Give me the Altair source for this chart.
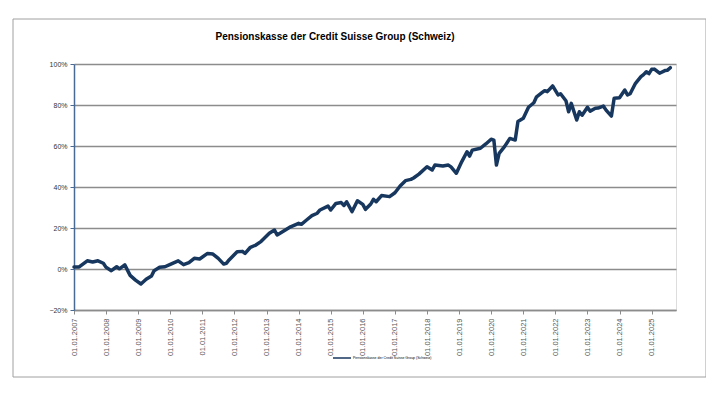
import altair as alt
import pandas as pd

series_name = "Pensionskasse der Credit Suisse Group (Schweiz)"

dates = [
    "2007-01", "2007-03", "2007-06", "2007-08", "2007-10", "2007-12",
    "2008-01", "2008-03", "2008-05", "2008-06", "2008-08", "2008-10", "2008-12",
    "2009-02", "2009-04", "2009-06", "2009-07", "2009-09", "2009-11",
    "2010-01", "2010-04", "2010-06", "2010-08", "2010-10", "2010-12",
    "2011-03", "2011-05", "2011-07", "2011-09", "2011-10", "2011-11",
    "2012-02", "2012-04", "2012-05", "2012-07", "2012-09", "2012-11",
    "2013-02", "2013-04", "2013-05", "2013-07", "2013-10",
    "2014-01", "2014-02", "2014-04", "2014-06", "2014-08", "2014-09", "2014-12",
    "2015-01", "2015-03", "2015-05", "2015-06", "2015-07", "2015-09", "2015-11",
    "2016-01", "2016-02", "2016-04", "2016-05", "2016-06", "2016-08", "2016-11",
    "2017-01", "2017-03", "2017-05", "2017-07", "2017-08", "2017-10",
    "2018-01", "2018-03", "2018-04", "2018-07", "2018-09", "2018-10", "2018-12",
    "2019-02", "2019-04", "2019-05", "2019-06", "2019-09", "2019-11",
    "2020-01", "2020-02", "2020-03", "2020-04", "2020-06", "2020-08", "2020-10", "2020-11",
    "2021-01", "2021-03", "2021-05", "2021-06", "2021-08", "2021-09", "2021-10", "2021-12",
    "2022-02", "2022-03", "2022-05", "2022-06", "2022-07", "2022-09", "2022-10", "2022-11",
    "2023-01", "2023-02", "2023-04", "2023-05", "2023-07", "2023-08", "2023-10", "2023-11",
    "2024-01", "2024-03", "2024-04", "2024-05", "2024-07", "2024-09", "2024-10", "2024-11", "2024-12",
    "2025-01", "2025-02", "2025-04", "2025-06", "2025-07", "2025-08",
]

values_pct = [
    1.0, 1.0, 4.0, 3.4, 4.0, 2.8,
    0.8, -0.8, 1.1, 0.1, 2.0, -3.1, -5.4,
    -7.3, -5.0, -3.4, -0.8, 0.8, 1.1,
    2.3, 4.0, 2.1, 3.1, 5.2, 4.9,
    7.6, 7.3, 5.2, 2.4, 2.8, 4.4,
    8.4, 8.6, 7.6, 10.6, 11.7, 13.5,
    17.4, 19.0, 16.6, 18.2, 20.6,
    22.3, 21.8, 23.9, 26.0, 27.2, 28.8, 30.7,
    28.8, 32.0, 32.4, 31.0, 32.8, 28.0, 33.3,
    31.5, 29.1, 31.7, 34.0, 32.8, 35.8, 35.3,
    37.2, 40.5, 43.1, 43.7, 44.4, 46.3,
    49.9, 48.3, 50.7, 50.2, 50.7, 49.8, 46.7,
    52.4, 57.2, 55.1, 58.0, 58.9, 61.0,
    63.3, 62.9, 50.7, 56.4, 59.7, 63.7, 62.9, 71.9,
    73.5, 78.9, 81.1, 84.0, 86.0, 87.0, 86.5, 89.3,
    84.9, 85.5, 82.1, 76.7, 80.8, 72.7, 76.7, 75.0,
    78.9, 77.0, 78.4, 78.5, 79.5, 77.5, 74.6, 83.3,
    83.5, 87.3, 84.9, 85.5, 90.6, 93.8, 94.8, 96.2, 95.3,
    97.4, 97.5, 95.5, 96.8, 97.0, 98.2,
]

y_ticks = [-0.2, 0.0, 0.2, 0.4, 0.6, 0.8, 1.0]
x_tick_years = list(range(2007, 2026))

df = pd.DataFrame({
    "date": pd.to_datetime([d + "-01" for d in dates]),
    "value": [v / 100 for v in values_pct],
    "series": series_name,
})

label_font = "Liberation Sans"

line = alt.Chart(df).mark_line(strokeWidth=3.5, strokeJoin="round", strokeCap="round").encode(
    x=alt.X(
        "date:T",
        scale=alt.Scale(domain=[alt.DateTime(year=2007, month=1, date=1),
                                alt.DateTime(year=2025, month=10, date=5)]),
        axis=alt.Axis(
            title=None,
            values=[alt.DateTime(year=y, month=1, date=1) for y in x_tick_years],
            format="%d.%m.%Y",
            labelAngle=-90,
            labelAlign="right",
            labelBaseline="middle",
            labelFontSize=7.5,
            labelFont=label_font,
            labelColor="#555555",
            labelPadding=4,
            labelOverlap=False,
            labelFlush=False,
            grid=False,
            domainColor="#8c8c8c",
            domainWidth=1.5,
            tickColor="#8c8c8c",
            tickSize=4,
            tickWidth=1,
        ),
    ),
    y=alt.Y(
        "value:Q",
        scale=alt.Scale(domain=[-0.2, 1.0], nice=False, zero=False),
        axis=alt.Axis(
            title=None,
            values=y_ticks,
            format=".0%",
            labelFontSize=7,
            labelFont=label_font,
            labelColor="#333333",
            labelPadding=3,
            grid=True,
            gridColor="#8c8c8c",
            gridWidth=1.5,
            domainColor="#4a6a96",
            domainWidth=1.5,
            tickColor="#4a6a96",
            tickSize=4,
            tickWidth=1,
        ),
    ),
    color=alt.Color(
        "series:N",
        scale=alt.Scale(range=["#17375e"]),
        legend=alt.Legend(
            title=None,
            orient="none",
            legendX=258,
            legendY=284,
            symbolType="stroke",
            symbolSize=324,
            symbolStrokeWidth=1.5,
            labelFontSize=3.5,
            labelFont=label_font,
            labelColor="#000000",
            labelOffset=1,
        ),
    ),
)

frame = alt.Chart(pd.DataFrame({"k": [0]})).mark_rect(
    fill=None, stroke="#a0a0a0", strokeWidth=1, clip=False
).encode(
    x=alt.value(-61), x2=alt.value(632), y=alt.value(-45), y2=alt.value(313)
)

chart = alt.layer(frame, line).properties(
    width=602,
    height=246,
    padding={"left": 66, "top": 56, "right": 30, "bottom": 80},
    autosize=alt.AutoSizeParams(type="none"),
    title=alt.TitleParams(
        series_name,
        fontSize=10,
        fontWeight="bold",
        font=label_font,
        color="#000000",
        anchor="middle",
        baseline="bottom",
        dx=-40,
        offset=-33,
    ),
).configure_view(stroke=None).configure(background="white")

chart.save("out.html", embed_options={"renderer": "svg", "actions": False})
